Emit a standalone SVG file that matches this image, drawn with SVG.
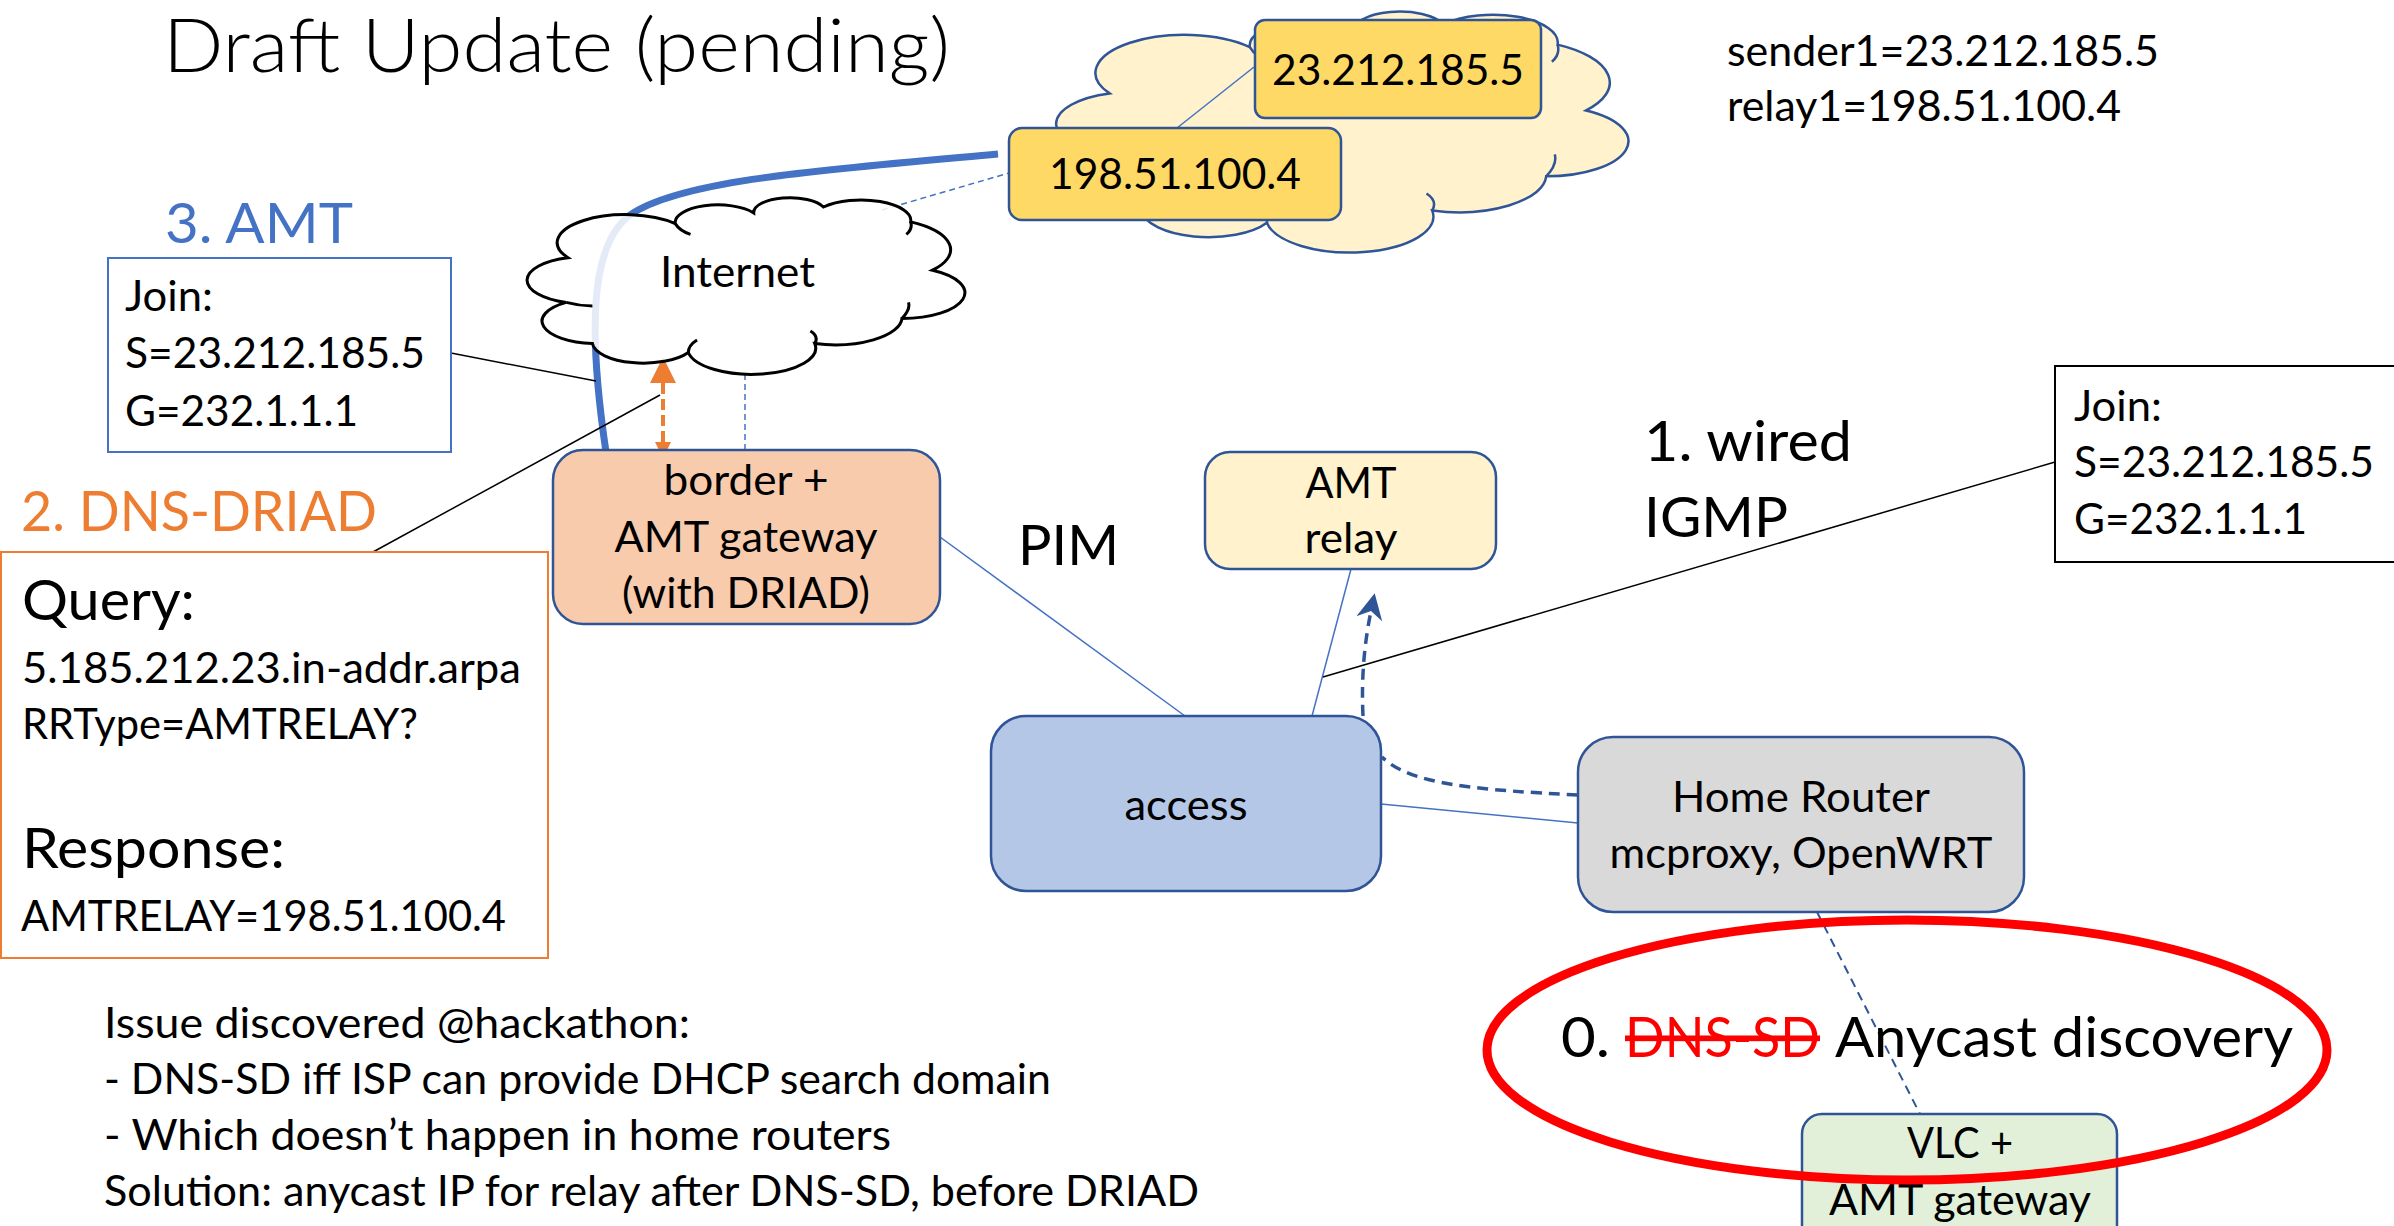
<svg xmlns="http://www.w3.org/2000/svg" width="2394" height="1226" viewBox="0 0 2394 1226">
<defs>
<style>
text{font-family:Lato,"Open Sans","Liberation Sans",sans-serif;fill:#000}
.s{font-size:42px}
.l{font-size:57px}
.c{text-anchor:middle}
.red{fill:#FF0000}
.blue{fill:#4472C4}
.orange{fill:#ED7D31}
.node{stroke:#2F5597;stroke-width:2.5}
.thin{fill:none;stroke:#4472C4;stroke-width:1.5}
.blk{fill:none;stroke:#000;stroke-width:1.5}
.dsh{fill:none;stroke:#4472C4;stroke-width:1.5;stroke-dasharray:6 4}
.ddash{fill:none;stroke:#2F5597;stroke-width:3.5;stroke-dasharray:11 7}
</style>
<marker id="stealth" viewBox="0 0 20 20" refX="6" refY="10" markerWidth="26" markerHeight="26" markerUnits="userSpaceOnUse" orient="auto"><path d="M0,0 L20,10 L0,20 L6,10 Z" fill="#2F5597"/></marker>
<marker id="triBig" viewBox="0 0 20 20" refX="0" refY="10" markerWidth="26" markerHeight="26" markerUnits="userSpaceOnUse" orient="auto"><path d="M0,0 L20,10 L0,20 Z" fill="#ED7D31"/></marker>
<marker id="triSmall" viewBox="0 0 20 20" refX="0" refY="10" markerWidth="16" markerHeight="16" markerUnits="userSpaceOnUse" orient="auto-start-reverse"><path d="M0,0 L20,10 L0,20 Z" fill="#ED7D31"/></marker>
</defs>
<rect width="2394" height="1226" fill="#FFFFFF"/>

<g id="title">
<text x="163" y="72" style="font-size:75px;font-weight:300" textLength="787" lengthAdjust="spacingAndGlyphs">Draft Update (pending)</text>
</g>

<g id="vars">
<text x="1727" y="66" class="s" textLength="432" lengthAdjust="spacingAndGlyphs">sender1=23.212.185.5</text>
<text x="1727" y="121" class="s" textLength="394" lengthAdjust="spacingAndGlyphs">relay1=198.51.100.4</text>
</g>

<g id="source-cloud">
<g transform="translate(1056,8) scale(5.7,2.44)">
<path d="M9,60 A13.1,13.1 0 0 1 9.4,35 A15.6,15.6 0 0 1 34,16 A9.8,9.8 0 0 1 52,10 A8.3,8.3 0 0 1 68,6.7 A11.4,11.4 0 0 1 88,15 A17.8,17.8 0 0 1 93,42 A14.4,14.4 0 0 1 86,69 A15.4,15.4 0 0 1 66,83 A14.7,14.7 0 0 1 37,88 A11.8,11.8 0 0 1 15,83 A12.6,12.6 0 0 1 9,60 Z" fill="#FFF2CC" stroke="#2F5597" stroke-width="2.5" vector-effect="non-scaling-stroke"/>
<path d="M34,16 Q35,20 37.5,22 M88,15 Q88.5,19 87,22 M86,69 Q88,64 87.5,60 M37,88 Q37,84 39,81 M9,60 Q12,62 15,62 M66,83 Q67,79 65,76" fill="none" stroke="#2F5597" stroke-width="2.5" vector-effect="non-scaling-stroke"/>
</g>
</g>

<g id="connectors">
<path d="M998,154 C820,170 680,180 630,215 C590,245 588,330 606,452" fill="none" stroke="#4472C4" stroke-width="7"/>
<line x1="882" y1="210" x2="1009" y2="173" class="dsh"/>
<line x1="1254" y1="67" x2="1177" y2="128" class="thin"/>
<line x1="745" y1="374" x2="745" y2="450" class="dsh"/>
<line x1="451" y1="353" x2="596" y2="381" class="blk"/>
<line x1="373" y1="552" x2="660" y2="395" class="blk"/>
<path d="M663,442 L663,383" fill="none" stroke="#ED7D31" stroke-width="4" stroke-dasharray="11 5" marker-end="url(#triBig)" marker-start="url(#triSmall)"/>
<line x1="940" y1="537" x2="1185" y2="716" class="thin"/>
<line x1="1351" y1="569" x2="1312" y2="716" class="thin"/>
<line x1="1381" y1="804" x2="1578" y2="823" class="thin"/>
<line x1="2055" y1="462" x2="1323" y2="677" class="blk"/>
<path d="M1363,716 C1361,675 1365,640 1371,611" class="ddash" marker-end="url(#stealth)"/>
<path d="M1578,795 C1480,790 1410,785 1382,757" class="ddash"/>
<line x1="1817" y1="912" x2="1920" y2="1114" stroke="#2F5597" stroke-width="2" stroke-dasharray="9 6"/>
</g>

<g id="sender">
<rect x="1255" y="20" width="286" height="98" rx="10" fill="#FFD966" class="node"/>
<text x="1398" y="85" class="s c" textLength="252" lengthAdjust="spacingAndGlyphs">23.212.185.5</text>
</g>

<g id="relay-ip">
<rect x="1009" y="128" width="332" height="92" rx="13" fill="#FFD966" class="node"/>
<text x="1175" y="189" class="s c" textLength="252" lengthAdjust="spacingAndGlyphs">198.51.100.4</text>
</g>

<g id="internet">
<g transform="translate(527,195) scale(4.36,1.79)">
<path d="M9,60 A13.1,13.1 0 0 1 9.4,35 A15.6,15.6 0 0 1 34,16 A9.8,9.8 0 0 1 52,10 A8.3,8.3 0 0 1 68,6.7 A11.4,11.4 0 0 1 88,15 A17.8,17.8 0 0 1 93,42 A14.4,14.4 0 0 1 86,69 A15.4,15.4 0 0 1 66,83 A14.7,14.7 0 0 1 37,88 A11.8,11.8 0 0 1 15,83 A12.6,12.6 0 0 1 9,60 Z" fill="#FFFFFF" fill-opacity="0.86" stroke="#000" stroke-width="3" vector-effect="non-scaling-stroke"/>
<path d="M34,16 Q35,20 37.5,22 M88,15 Q88.5,19 87,22 M86,69 Q88,64 87.5,60 M37,88 Q37,84 39,81 M9,60 Q12,62 15,62 M66,83 Q67,79 65,76" fill="none" stroke="#000" stroke-width="3" vector-effect="non-scaling-stroke"/>
</g>
<text x="660" y="287" class="s" textLength="155" lengthAdjust="spacingAndGlyphs">Internet</text>
</g>

<g id="amt-label">
<text x="165" y="243" class="l blue" textLength="188" lengthAdjust="spacingAndGlyphs">3. AMT</text>
</g>

<g id="join-amt">
<rect x="108" y="258" width="343" height="194" fill="#FFFFFF" stroke="#4472C4" stroke-width="2"/>
<text x="125" y="311" class="s" textLength="88" lengthAdjust="spacingAndGlyphs">Join:</text>
<text x="125" y="368" class="s" textLength="300" lengthAdjust="spacingAndGlyphs">S=23.212.185.5</text>
<text x="125" y="426" class="s" textLength="233" lengthAdjust="spacingAndGlyphs">G=232.1.1.1</text>
</g>

<g id="driad-label">
<text x="21" y="531" class="l orange" textLength="356" lengthAdjust="spacingAndGlyphs">2. DNS-DRIAD</text>
</g>

<g id="driad-box">
<rect x="1" y="552" width="547" height="406" fill="#FFFFFF" stroke="#ED7D31" stroke-width="2"/>
<text x="22" y="620" class="l" textLength="173" lengthAdjust="spacingAndGlyphs">Query:</text>
<text x="22" y="683" class="s" textLength="499" lengthAdjust="spacingAndGlyphs">5.185.212.23.in-addr.arpa</text>
<text x="22" y="739" class="s" textLength="396" lengthAdjust="spacingAndGlyphs">RRType=AMTRELAY?</text>
<text x="22" y="868" class="l" textLength="263" lengthAdjust="spacingAndGlyphs">Response:</text>
<text x="21" y="931" class="s" textLength="485" lengthAdjust="spacingAndGlyphs">AMTRELAY=198.51.100.4</text>
</g>

<g id="border">
<rect x="553" y="450" width="387" height="174" rx="30" fill="#F8CBAD" class="node"/>
<text x="746" y="495" class="s c" textLength="165" lengthAdjust="spacingAndGlyphs">border +</text>
<text x="746" y="552" class="s c" textLength="263" lengthAdjust="spacingAndGlyphs">AMT gateway</text>
<text x="746" y="608" class="s c" textLength="248" lengthAdjust="spacingAndGlyphs">(with DRIAD)</text>
</g>

<g id="pim-label">
<text x="1018" y="565" class="l" textLength="101" lengthAdjust="spacingAndGlyphs">PIM</text>
</g>

<g id="amt-relay">
<rect x="1205" y="452" width="291" height="117" rx="25" fill="#FFF2CC" class="node"/>
<text x="1351" y="498" class="s c" textLength="91" lengthAdjust="spacingAndGlyphs">AMT</text>
<text x="1351" y="553" class="s c" textLength="93" lengthAdjust="spacingAndGlyphs">relay</text>
</g>

<g id="igmp-label">
<text x="1644" y="461" class="l" textLength="208" lengthAdjust="spacingAndGlyphs">1. wired</text>
<text x="1644" y="537" class="l" textLength="144" lengthAdjust="spacingAndGlyphs">IGMP</text>
</g>

<g id="join-igmp">
<rect x="2055" y="366" width="400" height="196" fill="#FFFFFF" stroke="#000" stroke-width="2"/>
<text x="2074" y="421" class="s" textLength="88" lengthAdjust="spacingAndGlyphs">Join:</text>
<text x="2074" y="477" class="s" textLength="300" lengthAdjust="spacingAndGlyphs">S=23.212.185.5</text>
<text x="2074" y="534" class="s" textLength="233" lengthAdjust="spacingAndGlyphs">G=232.1.1.1</text>
</g>

<g id="access">
<rect x="991" y="716" width="390" height="175" rx="35" fill="#B4C7E7" class="node"/>
<text x="1186" y="820" class="s c" textLength="123" lengthAdjust="spacingAndGlyphs">access</text>
</g>

<g id="home-router">
<rect x="1578" y="737" width="446" height="175" rx="35" fill="#D9D9D9" class="node"/>
<text x="1801" y="812" class="s c" textLength="258" lengthAdjust="spacingAndGlyphs">Home Router</text>
<text x="1801" y="868" class="s c" textLength="383" lengthAdjust="spacingAndGlyphs">mcproxy, OpenWRT</text>
</g>

<g id="vlc">
<rect x="1802" y="1114" width="315" height="140" rx="20" fill="#E2F0D9" class="node"/>
<text x="1960" y="1158" class="s c" textLength="106" lengthAdjust="spacingAndGlyphs">VLC +</text>
<text x="1960" y="1215" class="s c" textLength="262" lengthAdjust="spacingAndGlyphs">AMT gateway</text>
</g>

<g id="anycast-note">
<ellipse cx="1907" cy="1050" rx="420" ry="130" fill="none" stroke="#FF0000" stroke-width="9"/>
<text x="1561" y="1057" class="l" textLength="49" lengthAdjust="spacingAndGlyphs">0.</text>
<text x="1625" y="1057" class="l red" textLength="195" lengthAdjust="spacingAndGlyphs" text-decoration="line-through">DNS-SD</text>
<text x="1835" y="1057" class="l" textLength="458" lengthAdjust="spacingAndGlyphs">Anycast discovery</text>
</g>

<g id="issue-note">
<text x="104" y="1038" class="s" textLength="586" lengthAdjust="spacingAndGlyphs">Issue discovered @hackathon:</text>
<text x="104" y="1094" class="s" textLength="947" lengthAdjust="spacingAndGlyphs">- DNS-SD iff ISP can provide DHCP search domain</text>
<text x="104" y="1150" class="s" textLength="787" lengthAdjust="spacingAndGlyphs">- Which doesn’t happen in home routers</text>
<text x="104" y="1206" class="s" textLength="1095" lengthAdjust="spacingAndGlyphs">Solution: anycast IP for relay after DNS-SD, before DRIAD</text>
</g>
</svg>
